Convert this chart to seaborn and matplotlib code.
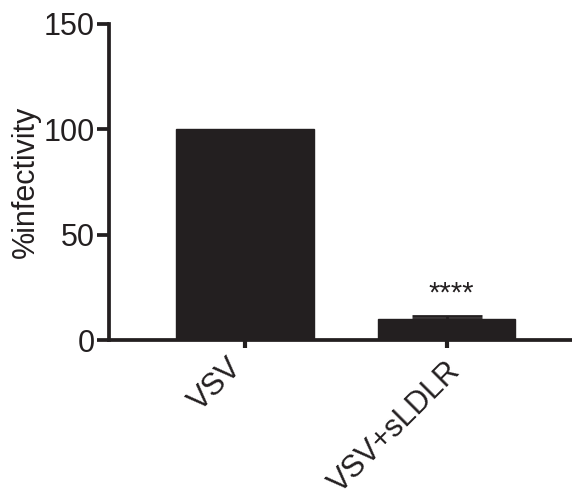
import matplotlib
matplotlib.use("Agg")
import matplotlib.pyplot as plt
import matplotlib.transforms as mtransforms
import seaborn as sns
import pandas as pd

categories = ["VSV", "VSV+sLDLR"]
values = [100, 10]
errors_up = [0, 1.5]
significance = ["", "****"]
yticks = [0, 50, 100, 150]

sns.set_style("ticks")
plt.rcParams['font.family'] = ['Liberation Sans', 'DejaVu Sans']

df = pd.DataFrame({"group": categories, "value": values})

fig = plt.figure(figsize=(5.72, 4.98), dpi=100)
ax = fig.add_axes([109/572, 1-340/498, 1-109/572, (340-24)/498])

dark = "#231f20"
sns.barplot(data=df, x="group", y="value", color=dark, width=0.68,
            saturation=1, edgecolor=dark, linewidth=1, ax=ax, errorbar=None)
for i, (v, e) in enumerate(zip(values, errors_up)):
    if e > 0:
        ax.errorbar([i], [v], yerr=[[0], [e]], fmt="none", ecolor=dark,
                    elinewidth=2, capsize=25, capthick=2)

for i, (v, e, s) in enumerate(zip(values, errors_up, significance)):
    if s:
        ax.text(i + 0.02, v + e + 4, s, ha="center", va="bottom",
                fontsize=21, color=dark)

ax.set_ylim(0, 150)
ax.set_xlim(-0.673, 1.62)
ax.set_yticks(yticks)
ax.set_yticklabels([str(t) for t in yticks], fontsize=22, color=dark)
ax.set_xticks(range(len(categories)))
ax.set_xticklabels(categories, rotation=45, ha="right", rotation_mode="anchor",
                   fontsize=22, color=dark)
ax.set_xlabel("")
ax.set_ylabel("%infectivity", fontsize=22, color=dark, labelpad=2)

for side in ["top", "right"]:
    ax.spines[side].set_visible(False)
for side in ["left", "bottom"]:
    ax.spines[side].set_linewidth(2.7)
    ax.spines[side].set_color(dark)
ax.tick_params(axis="y", length=9, width=2.7, color=dark, direction="out", pad=1)
ax.tick_params(axis="x", length=6, width=3, color=dark, direction="out", pad=4)

label_shifts_px = [(-18, 1), (-1, -2)]
for lbl, (dx, dy) in zip(ax.get_xticklabels(), label_shifts_px):
    off = mtransforms.ScaledTranslation(dx/100, dy/100, fig.dpi_scale_trans)
    lbl.set_transform(lbl.get_transform() + off)

fig.savefig("out.png", dpi=100)
